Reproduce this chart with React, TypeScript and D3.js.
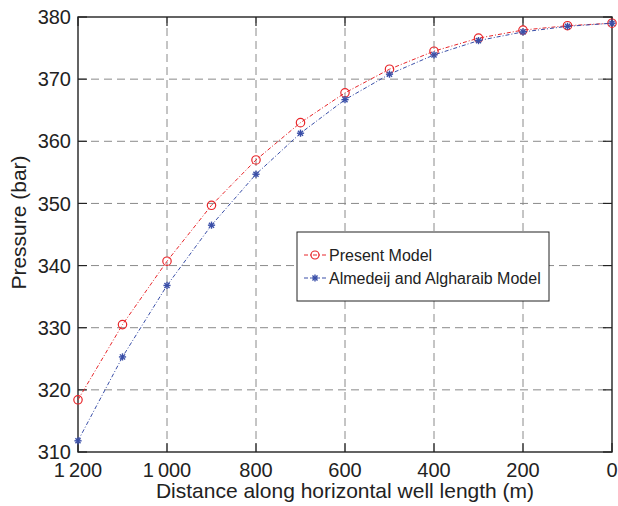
import { useRef, useEffect } from "react";
import * as d3 from "d3";

// distance along the well (m)
const distances = [1200, 1100, 1000, 900, 800, 700, 600, 500, 400, 300, 200, 100, 0];
const presentModel = [318.4, 330.5, 340.7, 349.7, 357.0, 363.0, 367.8, 371.6, 374.5, 376.6, 377.9, 378.6, 379.0];
const almedeijModel = [311.8, 325.3, 336.8, 346.5, 354.7, 361.3, 366.7, 370.8, 373.9, 376.2, 377.6, 378.5, 379.0];
const xTicks = [1200, 1000, 800, 600, 400, 200, 0];
const yTicks = [310, 320, 330, 340, 350, 360, 370, 380];
const legendLabels = ["Present Model", "Almedeij and Algharaib Model"];

const width = 618;
const height = 506;
const margin = { top: 17, right: 6, bottom: 54, left: 78 };
const font = "'Liberation Sans', Arial, sans-serif";

const fmtX = (d) => (d >= 1000 ? `${Math.floor(d / 1000)}\u2009${String(d % 1000).padStart(3, "0")}` : `${d}`);

const App = () => {
  const ref = useRef();

  useEffect(() => {
    const svg = d3.select(ref.current);
    svg.selectAll("*").remove();

    const x = d3.scaleLinear().domain([1200, 0]).range([margin.left, width - margin.right]);
    const y = d3.scaleLinear().domain([310, 380]).range([height - margin.bottom, margin.top]);
    const x0 = x.range()[0], x1 = x.range()[1];
    const y0 = y.range()[0], y1 = y.range()[1];

    // grid
    const grid = svg.append("g").attr("stroke", "#8a8a8a").attr("stroke-width", 1).attr("stroke-dasharray", "8,5");
    grid.selectAll(".gx").data(xTicks.slice(1, -1)).enter().append("line")
      .attr("x1", (d) => x(d)).attr("x2", (d) => x(d)).attr("y1", y0).attr("y2", y1);
    grid.selectAll(".gy").data(yTicks.slice(1, -1)).enter().append("line")
      .attr("x1", x0).attr("x2", x1).attr("y1", (d) => y(d)).attr("y2", (d) => y(d));

    // ticks (inward)
    const ticks = svg.append("g").attr("stroke", "#222").attr("stroke-width", 1.2);
    yTicks.forEach((t) => {
      ticks.append("line").attr("x1", x0).attr("x2", x0 + 9).attr("y1", y(t)).attr("y2", y(t));
      ticks.append("line").attr("x1", x1).attr("x2", x1 - 9).attr("y1", y(t)).attr("y2", y(t));
    });
    xTicks.forEach((t) => {
      ticks.append("line").attr("x1", x(t)).attr("x2", x(t)).attr("y1", y0).attr("y2", y0 - 9);
      ticks.append("line").attr("x1", x(t)).attr("x2", x(t)).attr("y1", y1).attr("y2", y1 + 9);
    });

    // frame
    svg.append("rect").attr("x", x0).attr("y", y1).attr("width", x1 - x0).attr("height", y0 - y1)
      .attr("fill", "none").attr("stroke", "#222").attr("stroke-width", 1.4);

    // tick labels
    svg.selectAll(".yl").data(yTicks).enter().append("text")
      .attr("x", x0 - 7).attr("y", (d) => y(d)).attr("dy", "0.36em")
      .attr("text-anchor", "end").attr("font-family", font).attr("font-size", 20).attr("fill", "#222")
      .text((d) => d);
    svg.selectAll(".xl").data(xTicks).enter().append("text")
      .attr("x", (d) => x(d)).attr("y", y0 + 25)
      .attr("text-anchor", "middle").attr("font-family", font).attr("font-size", 20).attr("fill", "#222")
      .text(fmtX);

    // axis titles
    svg.append("text").attr("x", (x0 + x1) / 2).attr("y", 498)
      .attr("text-anchor", "middle").attr("font-family", font).attr("font-size", 21).attr("fill", "#222")
      .text("Distance along horizontal well length (m)");
    svg.append("text").attr("transform", `translate(26, ${(y0 + y1) / 2 - 12}) rotate(-90)`)
      .attr("text-anchor", "middle").attr("font-family", font).attr("font-size", 21).attr("fill", "#222")
      .text("Pressure (bar)");

    const line = d3.line().x((d) => x(d[0])).y((d) => y(d[1]));
    const red = "#e8262a";
    const blue = "#3a4fa8";

    const star = (g, cx, cy, r) => {
      [0, 45, 90, 135].forEach((a) => {
        const rad = (a * Math.PI) / 180;
        g.append("line")
          .attr("x1", cx - r * Math.cos(rad)).attr("y1", cy - r * Math.sin(rad))
          .attr("x2", cx + r * Math.cos(rad)).attr("y2", cy + r * Math.sin(rad))
          .attr("stroke", blue).attr("stroke-width", 1.4);
      });
    };

    // present model
    const redPts = distances.map((d, i) => [d, presentModel[i]]);
    svg.append("path").attr("d", line(redPts)).attr("fill", "none").attr("stroke", red)
      .attr("stroke-width", 1).attr("stroke-dasharray", "4,2,1,2");
    svg.selectAll(".rc").data(redPts).enter().append("circle")
      .attr("cx", (d) => x(d[0])).attr("cy", (d) => y(d[1])).attr("r", 4.2)
      .attr("fill", "none").attr("stroke", red).attr("stroke-width", 1.2);

    // almedeij model
    const bluePts = distances.map((d, i) => [d, almedeijModel[i]]);
    svg.append("path").attr("d", line(bluePts)).attr("fill", "none").attr("stroke", blue)
      .attr("stroke-width", 1).attr("stroke-dasharray", "4,2,1,2");
    const stars = svg.append("g");
    bluePts.forEach((d) => star(stars, x(d[0]), y(d[1]), 3.6));

    // legend
    const lg = svg.append("g").attr("transform", "translate(297, 232)");
    lg.append("rect").attr("width", 252).attr("height", 69).attr("fill", "#fff").attr("stroke", "#222").attr("stroke-width", 1);
    legendLabels.forEach((lab, i) => {
      const ly = 23 + i * 23;
      const col = i === 0 ? red : blue;
      lg.append("line").attr("x1", 7).attr("x2", 30).attr("y1", ly).attr("y2", ly)
        .attr("stroke", col).attr("stroke-width", 1).attr("stroke-dasharray", "4,2,1,2");
      if (i === 0) {
        lg.append("circle").attr("cx", 18).attr("cy", ly).attr("r", 4).attr("fill", "none").attr("stroke", red).attr("stroke-width", 1.2);
      } else {
        star(lg, 18, ly, 3.6);
      }
      lg.append("text").attr("x", 32).attr("y", ly).attr("dy", "0.36em")
        .attr("font-family", font).attr("font-size", 16).attr("fill", "#222").text(lab);
    });
  }, []);

  return (
    <svg ref={ref} width={width} height={height} style={{ position: "absolute", left: 0, top: 0, background: "#fff" }}></svg>
  );
};

export default App;
